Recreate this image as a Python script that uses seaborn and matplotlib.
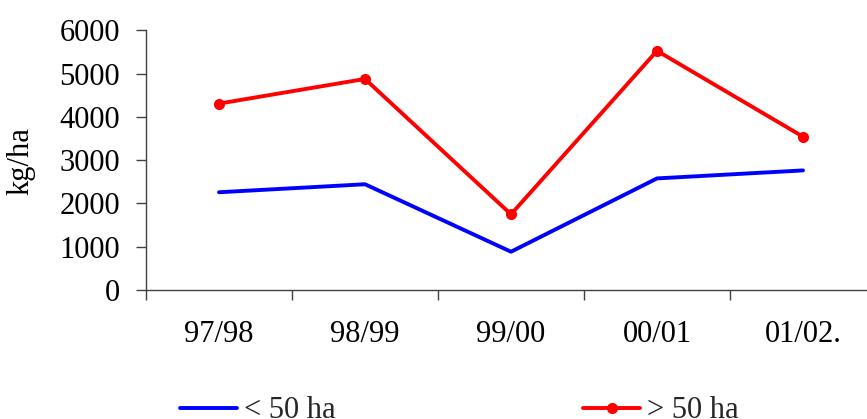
import matplotlib
matplotlib.use("Agg")
import matplotlib.pyplot as plt
import seaborn as sns
import pandas as pd
import numpy as np

seasons = ["97/98", "98/99", "99/00", "00/01", "01/02."]
small_farms = [2260, 2445, 885, 2580, 2765]
large_farms = [4310, 4880, 1750, 5530, 3545]
series_names = ["< 50 ha", "> 50 ha"]
y_ticks = [0, 1000, 2000, 3000, 4000, 5000, 6000]

sns.set_theme(style="white")
plt.rcParams["font.family"] = ["Liberation Serif", "DejaVu Serif"]

df = pd.DataFrame({
    "season": seasons * 2,
    "value": small_farms + large_farms,
    "series": [series_names[0]] * len(seasons) + [series_names[1]] * len(seasons),
})

FS = 22
W, H = 867, 419
fig = plt.figure(figsize=(W / 100, H / 100), dpi=100)
ax = fig.add_axes([146 / W, (H - 290) / H, 730 / W, 259.5 / H])

sns.lineplot(data=df[df.series == series_names[0]], x="season", y="value",
             color="#0000ff", linewidth=2.8, sort=False, ax=ax,
             label=series_names[0], legend=False)
sns.lineplot(data=df[df.series == series_names[1]], x="season", y="value",
             color="#ff0000", linewidth=2.8, marker="o", markersize=8,
             markeredgewidth=0, sort=False, ax=ax,
             label=series_names[1], legend=False)

ax.set_xlim(-0.5, len(seasons) - 0.5)
ax.set_ylim(0, 6000)
ax.set_yticks(y_ticks)
ax.set_yticklabels([str(v) for v in y_ticks])

# category labels centered, ticks at boundaries
ax.set_xticks(np.arange(-0.5, len(seasons) + 0.5, 1.0))
ax.set_xticklabels([])
ax.set_xticks(np.arange(len(seasons)), minor=True)
ax.set_xticklabels(seasons, minor=True)
ax.tick_params(axis="x", which="major", direction="out", length=7.2, width=1,
               color="#404040", bottom=True)
ax.tick_params(axis="x", which="minor", length=0, pad=21.6, labelsize=FS,
               labelcolor="black")
ax.tick_params(axis="y", direction="out", length=7.2, width=1, color="#404040",
               left=True, pad=11.5, labelsize=FS, labelcolor="black")

for s in ["top", "right"]:
    ax.spines[s].set_visible(False)
for s in ["left", "bottom"]:
    ax.spines[s].set_color("#404040")
    ax.spines[s].set_linewidth(1)

ax.set_xlabel("")
ax.set_ylabel("kg/ha", fontsize=FS, color="black")
ax.yaxis.set_label_coords(-0.152, 0.497)
ax.grid(False)

handles, labels = ax.get_legend_handles_labels()
leg = fig.legend(handles, labels, loc="center left",
                 bbox_to_anchor=(180 / W, 1 - 410.7 / H), ncol=2, frameon=False,
                 fontsize=FS, handlelength=1.87, handletextpad=0.23,
                 columnspacing=8.1, borderaxespad=0, borderpad=0)

fig.savefig("out.png", dpi=100)
